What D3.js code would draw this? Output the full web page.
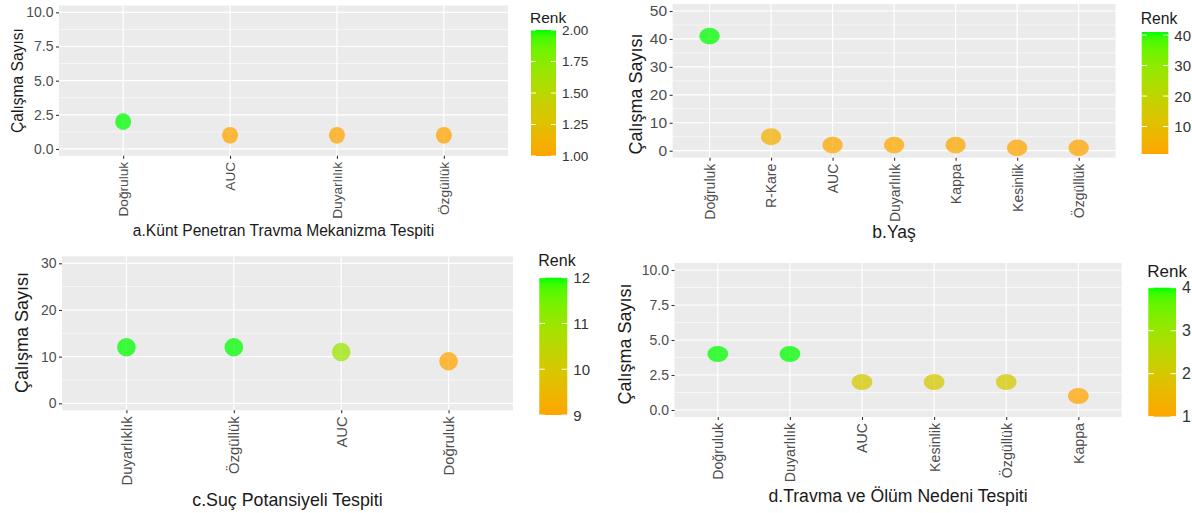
<!DOCTYPE html>
<html>
<head>
<meta charset="utf-8">
<script src="https://cdn.jsdelivr.net/npm/d3@7"></script>
<style>
  html, body { margin: 0; padding: 0; background: #ffffff; }
  svg { display: block; font-family: "Liberation Sans", Arial, sans-serif; }
</style>
</head>
<body>
<svg id="chart" width="1192" height="513"></svg>
<script>
// ---------- data ----------
const catsA = ["Doğruluk", "AUC", "Duyarlılık", "Özgüllük"];
const valsA = [2, 1, 1, 1];
const yTicksA = [0, 2.5, 5, 7.5, 10];
const yLimA = [0, 10];
const legTicksA = [1, 1.25, 1.5, 1.75, 2];
const titleA = "a.Künt Penetran Travma Mekanizma Tespiti";

const catsB = ["Doğruluk", "R-Kare", "AUC", "Duyarlılık", "Kappa", "Kesinlik", "Özgüllük"];
const valsB = [41, 5, 2, 2, 2, 1, 1];
const yTicksB = [0, 10, 20, 30, 40, 50];
const yLimB = [0, 50];
const legTicksB = [10, 20, 30, 40];
const titleB = "b.Yaş";

const catsC = ["Duyarlıklık", "Özgüllük", "AUC", "Doğruluk"];
const valsC = [12, 12, 11, 9];
const yTicksC = [0, 10, 20, 30];
const yLimC = [0, 30];
const legTicksC = [9, 10, 11, 12];
const titleC = "c.Suç Potansiyeli Tespiti";

const catsD = ["Doğruluk", "Duyarlılık", "AUC", "Kesinlik", "Özgüllük", "Kappa"];
const valsD = [4, 4, 2, 2, 2, 1];
const yTicksD = [0, 2.5, 5, 7.5, 10];
const yLimD = [0, 10];
const legTicksD = [1, 2, 3, 4];
const titleD = "d.Travma ve Ölüm Nedeni Tespiti";

const yAxisTitle = "Çalışma Sayısı";
const legendTitle = "Renk";
const lowColor = "#FFA500", highColor = "#00FF00";

// ---------- layout / style per panel ----------
const panels = [
  { cats: catsA, vals: valsA, yTicks: yTicksA, yLim: yLimA, yFmt: ".1f", legTicks: legTicksA, legFmt: ".2f", xTitle: titleA,
    box: { x0: 59, x1: 508, y0: 5.5, y1: 155.8 }, pt: { rx: 8, ry: 8.4 },
    f: { ytick: 14, xtick: 13.7, ytitle: 15.6, xtitle: 15.6, leg: 13.5, legTitle: 15.5 },
    yTitle: { x: 17, y: 80.5 }, xTitleY: 230,
    leg: { x: 531, w: 25, y0: 30, y1: 156, titleY: 17 } },
  { cats: catsB, vals: valsB, yTicks: yTicksB, yLim: yLimB, yFmt: "d", legTicks: legTicksB, legFmt: "d", xTitle: titleB,
    box: { x0: 672.6, x1: 1115.6, y0: 4, y1: 157.7 }, pt: { rx: 10.2, ry: 8.4 },
    f: { ytick: 15.5, xtick: 14, ytitle: 18, xtitle: 17.5, leg: 15, legTitle: 15.7 },
    yTitle: { x: 636, y: 94 }, xTitleY: 231.5,
    leg: { x: 1141.7, w: 26.6, y0: 32, y1: 154, titleY: 18 } },
  { cats: catsC, vals: valsC, yTicks: yTicksC, yLim: yLimC, yFmt: "d", legTicks: legTicksC, legFmt: "d", xTitle: titleC,
    box: { x0: 62, x1: 513, y0: 256.3, y1: 410.3 }, pt: { rx: 9.3, ry: 9.2 },
    f: { ytick: 14, xtick: 14.8, ytitle: 18, xtitle: 17.8, leg: 15, legTitle: 16 },
    yTitle: { x: 21.5, y: 332.5 }, xTitleY: 500,
    leg: { x: 539.3, w: 28, y0: 277.7, y1: 415, titleY: 260.7 } },
  { cats: catsD, vals: valsD, yTicks: yTicksD, yLim: yLimD, yFmt: ".1f", legTicks: legTicksD, legFmt: "d", xTitle: titleD,
    box: { x0: 674.5, x1: 1121.6, y0: 263, y1: 417 }, pt: { rx: 10.4, ry: 8 },
    f: { ytick: 14, xtick: 14.2, ytitle: 18, xtitle: 17.6, leg: 16, legTitle: 17 },
    yTitle: { x: 624.5, y: 344 }, xTitleY: 496,
    leg: { x: 1148.3, w: 27.7, y0: 287.7, y1: 416.7, titleY: 271.7 } }
];

const svg = d3.select("#chart");
const defs = svg.append("defs");

panels.forEach((p, idx) => {
  const g = svg.append("g");
  const b = p.box;

  // scales
  const x = d3.scalePoint().domain(p.cats).range([b.x0, b.x1]).padding(0.6);
  const span = p.yLim[1] - p.yLim[0];
  const y = d3.scaleLinear().domain([p.yLim[0] - 0.05 * span, p.yLim[1] + 0.05 * span]).range([b.y1, b.y0]);
  const cMin = d3.min(p.vals), cMax = d3.max(p.vals);
  const color = d3.scaleLinear().domain([cMin, cMax]).range([lowColor, highColor]).interpolate(d3.interpolateLab);

  // panel background
  g.append("rect").attr("x", b.x0).attr("y", b.y0).attr("width", b.x1 - b.x0).attr("height", b.y1 - b.y0)
    .attr("fill", "#EBEBEB");

  // minor grid
  const minor = [];
  const step = p.yTicks[1] - p.yTicks[0];
  const dom = y.domain();
  for (let i = 0; i < p.yTicks.length + 1; i++) {
    const v = p.yTicks[0] - step / 2 + i * step;
    if (v > dom[0] && v < dom[1]) minor.push(v);
  }
  g.selectAll(".minor").data(minor).enter().append("line")
    .attr("x1", b.x0).attr("x2", b.x1).attr("y1", d => y(d)).attr("y2", d => y(d))
    .attr("stroke", "#ffffff").attr("stroke-width", 0.6);
  // major grid
  g.selectAll(".majorY").data(p.yTicks).enter().append("line")
    .attr("x1", b.x0).attr("x2", b.x1).attr("y1", d => y(d)).attr("y2", d => y(d))
    .attr("stroke", "#ffffff").attr("stroke-width", 1.2);
  g.selectAll(".majorX").data(p.cats).enter().append("line")
    .attr("x1", d => x(d)).attr("x2", d => x(d)).attr("y1", b.y0).attr("y2", b.y1)
    .attr("stroke", "#ffffff").attr("stroke-width", 1.2);

  // y axis
  const yAxis = d3.axisLeft(y).tickValues(p.yTicks).tickFormat(d3.format(p.yFmt)).tickSize(3).tickPadding(2.5);
  const ya = g.append("g").attr("transform", `translate(${b.x0},0)`).call(yAxis);
  ya.select(".domain").remove();
  ya.selectAll(".tick line").attr("stroke", "#333333").attr("stroke-width", 1.1);
  ya.selectAll(".tick text").attr("fill", "#4D4D4D").attr("font-size", p.f.ytick)
    .attr("font-family", "Liberation Sans, Arial, sans-serif");

  // x axis
  const xAxis = d3.axisBottom(x).tickSize(3).tickPadding(3);
  const xa = g.append("g").attr("transform", `translate(0,${b.y1})`).call(xAxis);
  xa.select(".domain").remove();
  xa.selectAll(".tick line").attr("stroke", "#333333").attr("stroke-width", 1.1);
  xa.selectAll(".tick text").attr("fill", "#4D4D4D").attr("font-size", p.f.xtick)
    .attr("font-family", "Liberation Sans, Arial, sans-serif")
    .attr("transform", "rotate(-90)").attr("text-anchor", "end")
    .attr("x", -6).attr("y", 0).attr("dy", "0.35em");

  // points
  g.selectAll(".pt").data(p.cats.map((c, i) => ({ c, v: p.vals[i] }))).enter().append("ellipse")
    .attr("cx", d => x(d.c)).attr("cy", d => y(d.v))
    .attr("rx", p.pt.rx).attr("ry", p.pt.ry)
    .attr("fill", d => color(d.v)).attr("fill-opacity", 0.75);

  // axis titles
  g.append("text").attr("transform", `translate(${p.yTitle.x},${p.yTitle.y}) rotate(-90)`)
    .attr("text-anchor", "middle").attr("dominant-baseline", "central")
    .attr("font-size", p.f.ytitle).attr("fill", "#1a1a1a").text(yAxisTitle);
  g.append("text").attr("x", (b.x0 + b.x1) / 2).attr("y", p.xTitleY)
    .attr("text-anchor", "middle").attr("dominant-baseline", "central")
    .attr("font-size", p.f.xtitle).attr("fill", "#1a1a1a").text(p.xTitle);

  // legend colorbar
  const L = p.leg;
  const gradId = "grad" + idx;
  const grad = defs.append("linearGradient").attr("id", gradId)
    .attr("x1", 0).attr("y1", 1).attr("x2", 0).attr("y2", 0);
  d3.range(0, 1.0001, 0.05).forEach(t => {
    grad.append("stop").attr("offset", t).attr("stop-color", color(cMin + t * (cMax - cMin)));
  });
  g.append("rect").attr("x", L.x).attr("y", L.y0).attr("width", L.w).attr("height", L.y1 - L.y0)
    .attr("fill", `url(#${gradId})`);
  const ly = d3.scaleLinear().domain([cMin, cMax]).range([L.y1, L.y0]);
  const tl = L.w / 5;
  p.legTicks.forEach(t => {
    const yy = ly(t);
    g.append("line").attr("x1", L.x).attr("x2", L.x + tl).attr("y1", yy).attr("y2", yy)
      .attr("stroke", "#ffffff").attr("stroke-width", 1);
    g.append("line").attr("x1", L.x + L.w - tl).attr("x2", L.x + L.w).attr("y1", yy).attr("y2", yy)
      .attr("stroke", "#ffffff").attr("stroke-width", 1);
  });
  g.selectAll(".legLab").data(p.legTicks).enter().append("text")
    .attr("x", L.x + L.w + 6).attr("y", d => ly(d)).attr("dominant-baseline", "central")
    .attr("font-size", p.f.leg).attr("fill", "#333333").text(d => d3.format(p.legFmt)(d));
  g.append("text").attr("x", L.x - 1).attr("y", L.titleY).attr("dominant-baseline", "central")
    .attr("font-size", p.f.legTitle).attr("fill", "#1a1a1a").text(legendTitle);
});
</script>
</body>
</html>
